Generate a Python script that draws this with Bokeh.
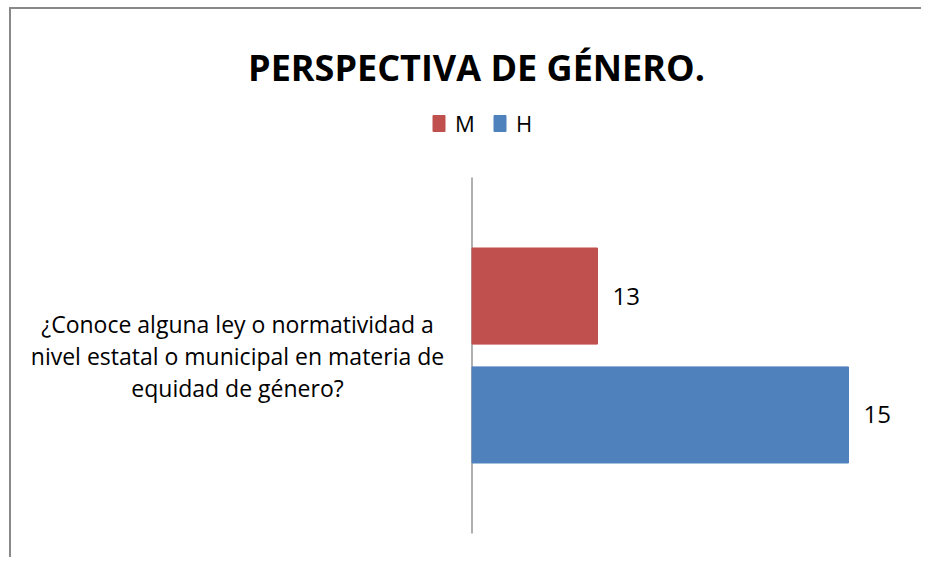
from bokeh.plotting import figure
from bokeh.models import (Range1d, Legend, LegendItem, LabelSet, Label,
                          ColumnDataSource)
from bokeh.transform import dodge
from bokeh.core.properties import value
from bokeh.embed import file_html
from bokeh.resources import INLINE

# ---- data ----
categories = ["¿Conoce alguna ley o normatividad a nivel estatal o municipal en materia de equidad de género?"]
category_lines = ["¿Conoce alguna ley o normatividad a",
                  "nivel estatal o municipal en materia de",
                  "equidad de género?"]
series_names = ["M", "H"]
values_M = [13]
values_H = [15]
axis_min = 12
title_text = "PERSPECTIVA DE GÉNERO."

RED = "#C0504D"
BLUE = "#4F81BD"
FONT = "Open Sans"

# ---- layout (pixel geometry of the canvas) ----
W, H = 912, 550
AXIS_PX = 460.5          # x of value axis inside canvas
PX_PER_UNIT = 125.5
BAND_TOP, BAND_BOT = 168, 524   # category band inside canvas (top-origin)
band_px = BAND_BOT - BAND_TOP
LINE_PX = 32             # line spacing of the category name

def px_x(px):
    return axis_min + (px - AXIS_PX) / PX_PER_UNIT

def px_y(py):
    return 0.5 - (py - BAND_TOP) / band_px

p = figure(width=W, height=H,
           x_range=Range1d(px_x(0), px_x(W)), y_range=Range1d(px_y(H), px_y(0)),
           x_axis_type=None, y_axis_type=None, title=None,
           output_backend="svg", toolbar_location=None,
           min_border=0, min_border_left=0, min_border_right=0,
           min_border_top=0, min_border_bottom=0)
p.styles = {"margin-left": "9px", "margin-top": "7px",
            "border-top": "2px solid #898989", "border-left": "2px solid #898989"}
p.outline_line_color = None
p.grid.visible = False

cat_index = list(range(len(categories)))
srcM = ColumnDataSource(dict(idx=cat_index, v=values_M, lab=[str(v) for v in values_M]))
srcH = ColumnDataSource(dict(idx=cat_index, v=values_H, lab=[str(v) for v in values_H]))
srcAx = ColumnDataSource(dict(x0=[axis_min] * len(categories),
                              lo=[i - 0.5 for i in cat_index],
                              hi=[i + 0.5 for i in cat_index]))

# category name, one centred row per line
n_lines = len(category_lines)
srcC = ColumnDataSource(dict(
    lab=category_lines,
    ly=[cat_index[0] + ((n_lines - 1) / 2 - k) * LINE_PX / band_px for k in range(n_lines)],
    lx=[px_x(226)] * n_lines))

# value axis line
p.segment(x0="x0", y0="lo", x1="x0", y1="hi", source=srcAx,
          line_color="#868686", line_width=1.3)

yM = dodge("idx", 0.167)
yH = dodge("idx", -0.167)
rM = p.hbar(y=yM, right="v", left=axis_min, height=0.27, color=RED, source=srcM)
rH = p.hbar(y=yH, right="v", left=axis_min, height=0.27, color=BLUE, source=srcH)

for src, yy in ((srcM, yM), (srcH, yH)):
    p.add_layout(LabelSet(x="v", y=yy, text="lab", source=src, x_offset=15,
                          text_baseline="middle", text_align="left",
                          text_font=value(FONT), text_font_size="24px",
                          text_color="black"))

p.add_layout(LabelSet(x="lx", y="ly", text="lab", source=srcC,
                      text_align="center", text_baseline="middle",
                      text_font=value(FONT), text_font_size="23px",
                      text_color="black"))

# title
p.add_layout(Label(x=px_x(465), y=px_y(58), text=title_text,
                   text_align="center", text_baseline="alphabetic",
                   text_font=FONT, text_font_style="bold",
                   text_font_size="36px", text_color="black"))

legend = Legend(items=[LegendItem(label=series_names[0], renderers=[rM]),
                       LegendItem(label=series_names[1], renderers=[rH])],
                orientation="horizontal", location=(420, 421),
                glyph_width=15, glyph_height=20, label_standoff=9, spacing=17,
                padding=0, margin=0, border_line_color=None,
                background_fill_alpha=0, label_text_color="black",
                label_text_font=FONT, label_text_font_size="22px")
p.add_layout(legend)

open("out.html", "w").write(file_html(p, INLINE))
